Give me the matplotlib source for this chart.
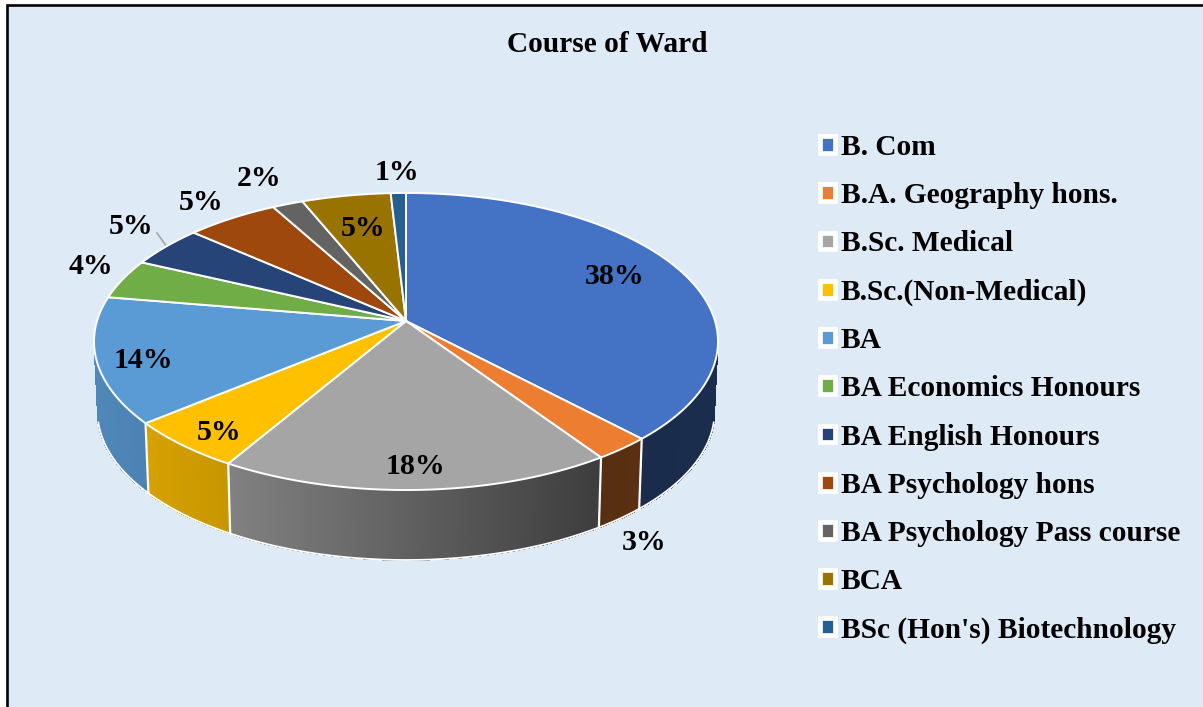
import numpy as np
import matplotlib
matplotlib.use("Agg")
import matplotlib.pyplot as plt
from matplotlib.collections import PolyCollection
from matplotlib.patches import Patch, Rectangle
from matplotlib.path import Path
from matplotlib.transforms import Transform
from matplotlib.colors import to_rgb

title = "Course of Ward"
courses = ["B. Com", "B.A. Geography hons.", "B.Sc. Medical", "B.Sc.(Non-Medical)", "BA",
           "BA Economics Honours", "BA English Honours", "BA Psychology hons",
           "BA Psychology Pass course", "BCA", "BSc (Hon's) Biotechnology"]
percent = [37.96, 2.6, 17.9, 5.49, 13.72, 4.33, 4.51, 5.49, 1.83, 5.27, 0.9]
colors = ["#4472C4", "#ED7D31", "#A5A5A5", "#FFC000", "#5B9BD5", "#70AD47",
          "#264478", "#9E480E", "#636363", "#997300", "#255E91"]
label_px = [(615, 277), (644, 543), (415, 467), (219, 432), (143, 360), (91, 267),
            (131, 227), (201, 203), (259, 179), (363, 228), (397, 172)]

W, H = 1203, 707
FONT = "Liberation Serif"
BG = "#DEEAF6"
CX, CY, A, B, K = 406.0, 321.0, 309.0, 145.7, 0.138
DEPTH, BOTTOM_SCALE = 70.0, 0.989
WALL_START = 102.0   # clockwise degrees from top where the visible wall begins


def project(u, v):
    d = 1 + K * v
    return CX + A * u / d, CY - B * v / d


class Perspective(Transform):
    input_dims = output_dims = 2
    is_separable = False
    has_inverse = False

    def transform_non_affine(self, values):
        values = np.asarray(values, dtype=float)
        x, y = project(values[:, 0], values[:, 1])
        return np.column_stack([x, y])

    def transform_path_non_affine(self, path):
        pts = []
        for seg, code in path.iter_bezier():
            if code == Path.MOVETO:
                pts.append(seg.control_points[:1])
            else:
                pts.append(seg(np.linspace(0, 1, 40))[1:])
        verts = np.vstack(pts)
        return Path(self.transform_non_affine(verts), closed=False)


def shade(x):
    return np.interp(x, [100, 228, 600, 720], [0.87, 0.78, 0.37, 0.40])


fig = plt.figure(figsize=(W / 100, H / 100), dpi=100, facecolor="white")
ax = fig.add_axes([0, 0, 1, 1])

wedges, _, autotexts = ax.pie(percent, colors=colors, startangle=90, counterclock=False,
                              autopct="%.0f%%", radius=1, pctdistance=0.6,
                              wedgeprops=dict(edgecolor="white", linewidth=1.4),
                              textprops=dict(family=FONT, fontweight="bold", fontsize=21.5,
                                             color="black"))
ax.set_aspect("auto")
ax.set_xlim(0, W)
ax.set_ylim(H, 0)
ax.axis("off")

ax.add_patch(Rectangle((7, 5), W + 20, H + 20, facecolor=BG, edgecolor="black",
                       linewidth=1.9, zorder=0, clip_on=True))

persp = Perspective()
for w in wedges:
    w.set_transform(persp + ax.transData)
    w.set_zorder(3)
    w.set_clip_on(False)

# side wall
edges = np.concatenate([[0], np.cumsum(percent)]) / np.sum(percent) * 360.0
polys, faces = [], []
for i, c in enumerate(colors):
    t0, t1 = max(edges[i], WALL_START), min(edges[i + 1], 360 - WALL_START)
    if t1 <= t0:
        continue
    ts = np.radians(np.linspace(t0, t1, int((t1 - t0) * 2) + 2))
    xt, yt = project(np.sin(ts), np.cos(ts))
    xb, yb = CX + (xt - CX) * BOTTOM_SCALE, yt + DEPTH
    base = np.array(to_rgb(c))
    for j in range(len(ts) - 1):
        polys.append([(xt[j], yt[j]), (xt[j + 1], yt[j + 1]), (xb[j + 1], yb[j + 1]), (xb[j], yb[j])])
        faces.append(tuple(base * shade((xt[j] + xt[j + 1]) / 2)))
    ax.plot(xb, yb, color="white", lw=1.3, zorder=2.5, solid_capstyle="round")
    if i > 0:
        ax.plot([xt[0], xb[0]], [yt[0], yb[0]], color="white", lw=1.6, zorder=2.5)
ax.add_collection(PolyCollection(polys, facecolors=faces, edgecolors=faces, linewidths=0.6,
                                 antialiaseds=False, zorder=2))

for txt, (x, y) in zip(autotexts, label_px):
    txt.set_position((x, y))
    txt.set_zorder(6)

ax.plot([157, 167], [233, 247], color="#A6A6A6", lw=1.2, zorder=2)

ax.text(607, 45, title, family=FONT, fontweight="bold", fontsize=21.2, ha="center", va="center")

handles = [Patch(facecolor=c, edgecolor="white", linewidth=3.4, joinstyle="round") for c in colors]
ax.legend(handles, courses, loc="upper left", bbox_to_anchor=(820, 134), bbox_transform=ax.transData,
          frameon=False, borderpad=0, borderaxespad=0, handlelength=0.5, handleheight=0.5,
          handletextpad=0.2, labelspacing=0.72,
          prop=dict(family=FONT, weight="bold", size=21.2))

fig.savefig("out.png", dpi=100, facecolor="white")
